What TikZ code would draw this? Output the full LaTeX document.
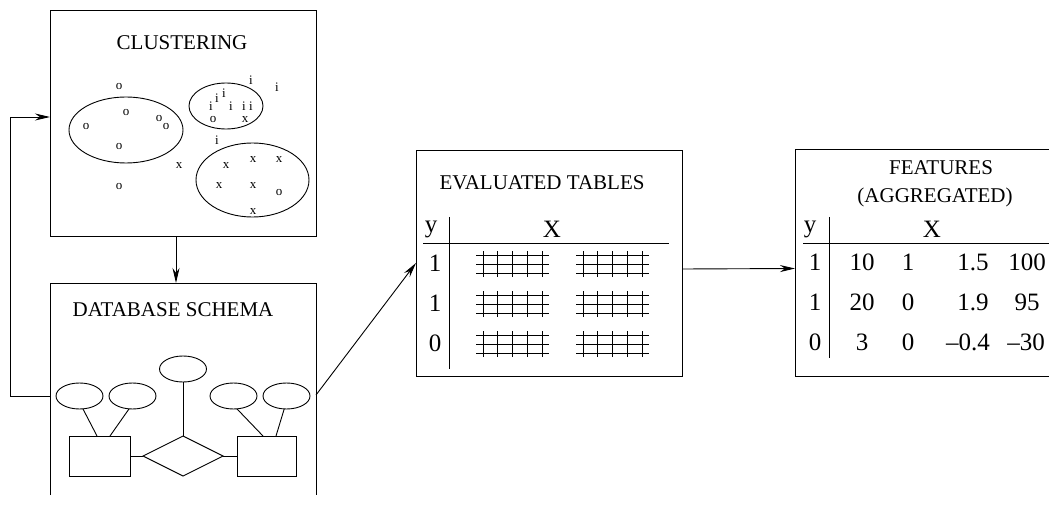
\documentclass[tikz,border=0pt]{standalone}
\usepackage{fontspec}
\setmainfont{Liberation Serif}
\usetikzlibrary{shapes.geometric,arrows.meta}
\begin{document}
\begin{tikzpicture}[x=1pt,y=-1pt,
  every node/.style={inner sep=0pt, outer sep=0pt},
  ln/.style={line width=0.9pt},
  arr/.style={ln, -{Stealth[length=15pt,width=7pt]}},
  box/.style={draw, ln, anchor=north west},
  ttl/.style={font=\fontsize{21}{25}\selectfont},
  cell/.style={font=\fontsize{25}{29}\selectfont},
  sym/.style={font=\fontsize{13}{14}\selectfont},
  group/.style={draw, ln, ellipse},
  attr/.style={draw, ln, ellipse, minimum width=47pt, minimum height=26pt},
  entity/.style={draw, ln, rectangle, minimum height=40pt},
  rel/.style={draw, ln, diamond, minimum width=80pt, minimum height=40pt},
  gridln/.style={line width=1pt}
]
\path[use as bounding box] (0,0) rectangle (1049,505);
\clip (0,0) rectangle (1049,505);

% ---------- clustering panel ----------
\node[box, minimum width=266pt, minimum height=226pt] (clus) at (50,10) {};
\node[ttl] (clustitle) at (182,43) {CLUSTERING};
\node[group, minimum width=114pt, minimum height=66pt] (g1) at (126,130) {};
\node[group, minimum width=74pt, minimum height=46pt] (g2) at (226,106) {};
\node[group, minimum width=113pt, minimum height=74pt] (g3) at (252.5,180) {};
\foreach \p [count=\k] in {(119,87),(126,113),(86,127),(159,119),(166,127),(119,147),(119,187),(213,120),(279,193)}
  \node[sym] (o\k) at \p {o};
\foreach \p [count=\k] in {(179,166),(245,120),(226,166),(253,160),(279,160),(219,186),(253,186),(253,212)}
  \node[sym] (x\k) at \p {x};
\foreach \p [count=\k] in {(251,80),(277,87),(224,93),(217,98),(211,106),(231,106),(244,106),(251,106),(217,140)}
  \node[sym] (i\k) at \p {i};

% ---------- database schema panel (cut at the bottom) ----------
\node[anchor=north west, minimum width=266pt, minimum height=212pt] (db) at (50,283) {};
\draw[ln] ([yshift=-212pt]db.north west) -- (db.north west) -- (db.north east) -- ([yshift=-212pt]db.north east);
\node[ttl] (dbtitle) at (173,310) {DATABASE SCHEMA};
\node[attr] (e1) at (79.5,396) {};
\node[attr] (e2) at (132.5,396) {};
\node[attr] (e0) at (183,369) {};
\node[attr] (e3) at (233.5,396) {};
\node[attr] (e4) at (286.5,396) {};
\node[entity, minimum width=61pt] (r1) at (99.5,456) {};
\node[entity, minimum width=59pt] (r2) at (266.5,456) {};
\node[rel] (dia) at (183,456) {};
\draw[ln] (r1.east) -- (dia.west);
\draw[ln] (dia.east) -- (r2.west);
\draw[ln] (e0.south) -- (dia.north);
\draw[ln] (e1.-75) -- ([xshift=-2.5pt]r1.north);
\draw[ln] (e2.-105) -- ([xshift=10.5pt]r1.north);
\draw[ln] (e3.-75) -- ([xshift=-3.5pt]r2.north);
\draw[ln] (e4.-100) -- ([xshift=9.5pt]r2.north);

% ---------- evaluated tables panel ----------
\node[box, minimum width=266pt, minimum height=226pt] (eval) at (416,150) {};
\node[ttl] (evaltitle) at (542,183) {EVALUATED TABLES};
\node[cell] (evy) at (431,229) {y};
\node[cell] (evX) at (552,229) {X};
\draw[ln] (449,217) -- (449,369);
\draw[ln] (423,243) -- (669,243);
\foreach \v/\cy [count=\k] in {1/263,1/303,0/343}
  \node[cell] (evr\k) at (435,\cy) {\v};
\foreach \cy in {264,304,344}
  \foreach \gx in {476,576} {
    \foreach \dy in {-9,0,9}
      \draw[gridln] (\gx,\cy+\dy) -- ++(73,0);
    \foreach \dx in {7,21,36,51,66}
      \draw[gridln] (\gx+\dx,\cy-13) -- ++(0,26);
  }

% ---------- aggregated features panel (cut at the right) ----------
\node[box, minimum width=280pt, minimum height=227pt] (feat) at (795,149) {};
\node[ttl] (feattitle1) at (941,168) {FEATURES};
\node[ttl] (feattitle2) at (935,197) {(AGGREGATED)};
\node[cell] (fy) at (810,229) {y};
\node[cell] (fX) at (932,229) {X};
\draw[ln] (829,217) -- (829,358);
\draw[ln] (803,243) -- (1049,243);
\foreach \v/\cy [count=\k] in {1/262,1/302,0/342}
  \node[cell] (fr\k) at (815,\cy) {\v};
\node[cell] (f11) at (862,262) {10};
\node[cell] (f12) at (908,262) {1};
\node[cell] (f13) at (973,262) {1.5};
\node[cell] (f14) at (1027,262) {100};
\node[cell] (f21) at (862,302) {20};
\node[cell] (f22) at (908,302) {0};
\node[cell] (f23) at (973,302) {1.9};
\node[cell] (f24) at (1027,302) {95};
\node[cell] (f31) at (862,342) {3};
\node[cell] (f32) at (908,342) {0};
\node[cell] (f33) at (968,342) {--0.4};
\node[cell] (f34) at (1026,342) {--30};

% ---------- connectors ----------
\draw[arr] ([xshift=-7pt]clus.south) -- ([xshift=-7pt]db.north);
\draw[arr] ([yshift=-113pt]db.north west) -- ++(-40,0) |- ([yshift=6pt]clus.west);
\draw[arr] ([yshift=-112pt]db.north east) -- (eval.west);
\draw[arr] ([yshift=-6pt]eval.east) -- ([yshift=-6pt]feat.west);
\end{tikzpicture}
\end{document}
